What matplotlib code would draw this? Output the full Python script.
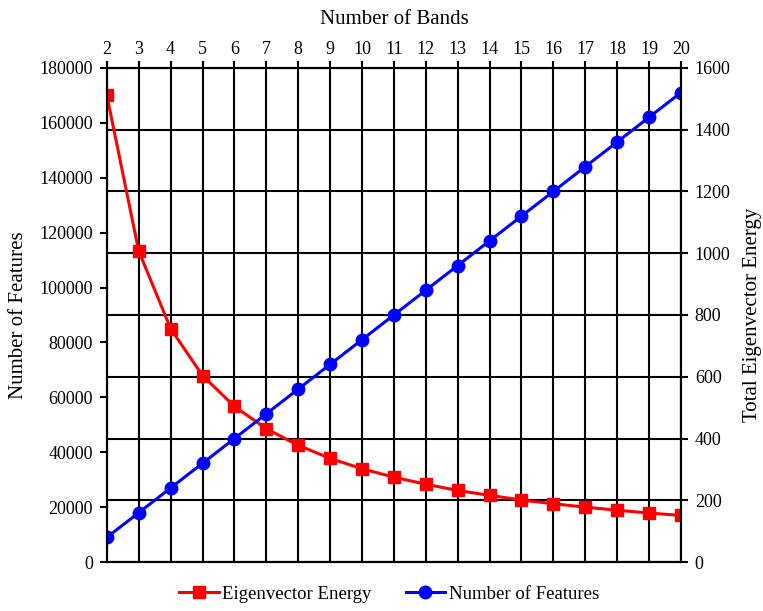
import matplotlib
matplotlib.use("Agg")
import matplotlib.pyplot as plt


plt.rcParams["font.family"] = ["Liberation Serif", "DejaVu Serif"]
plt.rcParams["font.size"] = 13

bands = [2, 3, 4, 5, 6, 7, 8, 9, 10, 11, 12, 13, 14, 15, 16, 17, 18, 19, 20]
num_features = [9000, 18000, 27000, 36000, 45000, 54000, 63000, 72000, 81000, 90000,
                99000, 108000, 117000, 126000, 135000, 144000, 153000, 162000, 171000]
eig_energy = [1511, 1007, 756, 604, 504, 432, 378, 336, 302, 275,
              252, 232, 216, 201, 189, 178, 168, 159, 151]

left_ticks = list(range(0, 180001, 20000))
right_ticks = list(range(0, 1601, 200))

fig = plt.figure(figsize=(7.63, 6.11), dpi=100)
ax = fig.add_axes([0.140, 0.080, 0.7525, 0.809])
ax2 = ax.twinx()

# right axis sits underneath and carries the grid + red series
ax.set_zorder(ax2.get_zorder() + 1)
ax.patch.set_visible(False)
ax2.patch.set_visible(True)
ax2.patch.set_facecolor("white")

ax2.xaxis.set_visible(True)
ax2.tick_params(axis="x", bottom=False, top=False, labelbottom=False, labeltop=False)
ax2.grid(True, axis="both", color="black", linewidth=1.5)
ax2.set_axisbelow(True)

ax2.plot(bands, eig_energy, color="red", linewidth=2.2, marker="s", markersize=8.5,
         label="Eigenvector Energy")
ax.plot(bands, num_features, color="blue", linewidth=2.2, marker="o", markersize=9,
        label="Number of Features")

ax.set_xlim(2, 20)
ax.set_xticks(bands)
ax.set_ylim(0, 180000)
ax.set_yticks(left_ticks)
ax2.set_ylim(0, 1600)
ax2.set_yticks(right_ticks)

ax.xaxis.tick_top()
ax.xaxis.set_label_position("top")
ax.tick_params(axis="x", direction="out", length=5, width=1.5, pad=2)
ax.tick_params(axis="y", direction="out", length=5, width=1.5, pad=5)
ax2.tick_params(axis="y", direction="out", length=5, width=1.5, pad=5)

for a in (ax, ax2):
    for s in a.spines.values():
        s.set_linewidth(1.5)
        s.set_color("black")

ax.set_xlabel("Number of Bands", fontsize=15, labelpad=12)
ax.set_ylabel("Number of Features", fontsize=15, labelpad=8)
ax2.set_ylabel("Total Eigenvector Energy", fontsize=15, labelpad=9)

h1, l1 = ax2.get_legend_handles_labels()
h2, l2 = ax.get_legend_handles_labels()
fig.legend(h1 + h2, l1 + l2, loc="lower center", bbox_to_anchor=(0.51, -0.014),
           ncol=2, frameon=False, fontsize=13.5, handlelength=2.1,
           handletextpad=0.2, columnspacing=1.8)

fig.savefig("out.png", dpi=100)
